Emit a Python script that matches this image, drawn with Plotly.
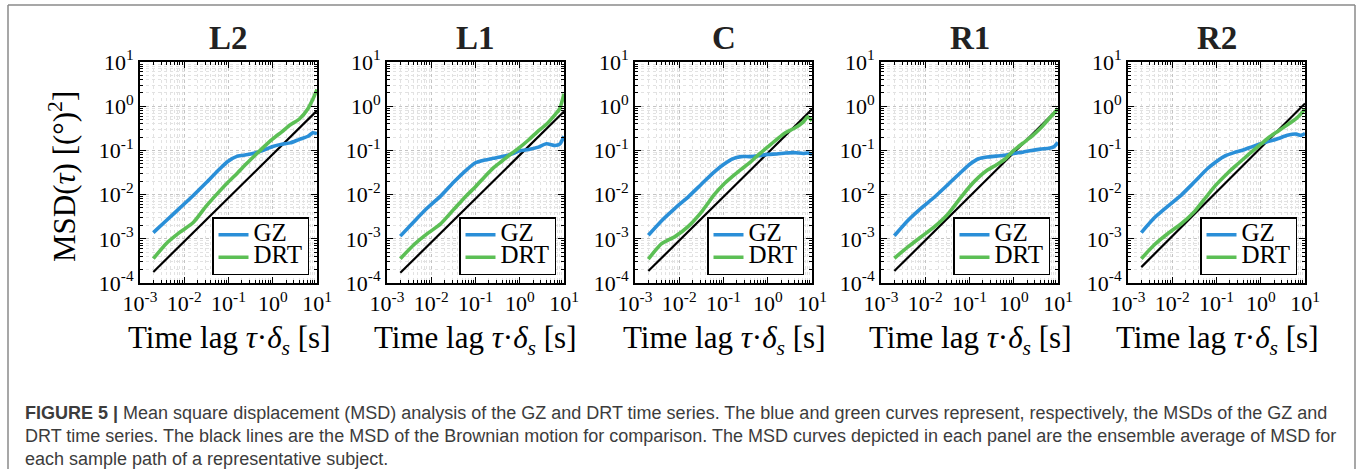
import plotly.graph_objects as go

W, H = 1358, 469

# ---------------- data ----------------
panels = ["L2", "L1", "C", "R1", "R2"]
tau = [0.002, 0.004, 0.008, 0.016, 0.032, 0.063, 0.1, 0.16, 0.25, 0.4,
       0.63, 1.0, 1.6, 2.5, 4.0, 6.3, 8.0, 10.0]

gz_L2 = [1.38e-3, 2.63e-3, 5.0e-3, 9.55e-3, 1.9e-2, 3.8e-2, 5.75e-2, 7.41e-2, 7.94e-2, 8.71e-2,
         0.102, 0.123, 0.138, 0.148, 0.178, 0.209, 0.251, 0.240]
drt_L2 = [3.55e-4, 7.94e-4, 1.41e-3, 2.34e-3, 5.62e-3, 1.2e-2, 1.95e-2, 3.09e-2, 4.9e-2, 7.76e-2,
          0.120, 0.182, 0.263, 0.380, 0.513, 0.891, 1.41, 2.40]

gz_L1 = [1.15e-3, 2.4e-3, 4.9e-3, 9.12e-3, 1.9e-2, 3.63e-2, 5.25e-2, 6.03e-2, 6.61e-2, 7.24e-2,
         8.13e-2, 9.77e-2, 0.105, 0.117, 0.141, 0.129, 0.138, 0.209]
drt_L1 = [3.55e-4, 7.24e-4, 1.29e-3, 2.14e-3, 4.57e-3, 9.55e-3, 1.51e-2, 2.51e-2, 3.98e-2, 5.75e-2,
          8.32e-2, 0.117, 0.174, 0.263, 0.389, 0.646, 0.871, 1.91]

gz_C = [1.2e-3, 2.57e-3, 4.9e-3, 8.91e-3, 1.74e-2, 3.31e-2, 4.79e-2, 6.46e-2, 7.24e-2, 7.24e-2,
        7.59e-2, 8.13e-2, 8.32e-2, 8.71e-2, 8.91e-2, 8.51e-2, 8.71e-2, 8.13e-2]
drt_C = [3.47e-4, 7.76e-4, 1.12e-3, 1.91e-3, 4.07e-3, 1.02e-2, 1.7e-2, 2.57e-2, 3.72e-2, 5.37e-2,
         8.13e-2, 0.120, 0.178, 0.251, 0.316, 0.437, 0.575, 0.468]

gz_R1 = [1.17e-3, 2.57e-3, 4.9e-3, 8.71e-3, 1.66e-2, 3.16e-2, 4.79e-2, 6.46e-2, 7.08e-2, 7.41e-2,
         7.76e-2, 8.51e-2, 9.12e-2, 0.100, 0.107, 0.112, 0.120, 0.151]
drt_R1 = [3.63e-4, 6.46e-4, 1.1e-3, 1.86e-3, 3.55e-3, 8.51e-3, 1.51e-2, 2.45e-2, 3.55e-2, 4.68e-2,
          6.31e-2, 0.100, 0.145, 0.204, 0.316, 0.525, 0.676, 0.891]

gz_R2 = [1.38e-3, 3.02e-3, 5.5e-3, 9.77e-3, 1.95e-2, 3.89e-2, 5.62e-2, 7.59e-2, 8.91e-2, 0.102,
         0.120, 0.141, 0.162, 0.186, 0.219, 0.234, 0.219, 0.240]
drt_R2 = [3.55e-4, 7.41e-4, 1.32e-3, 2.19e-3, 4.17e-3, 9.77e-3, 1.7e-2, 2.75e-2, 4.17e-2, 6.31e-2,
          9.33e-2, 0.138, 0.204, 0.275, 0.380, 0.525, 0.661, 0.871]

# Brownian-motion reference lines (end points)
brown_tau = [0.002, 10.0]
brown_L2 = [1.78e-4, 0.794]
brown_L1 = [1.70e-4, 0.76]
brown_C = [1.86e-4, 0.85]
brown_R1 = [1.86e-4, 0.87]
brown_R2 = [2.29e-4, 1.15]

gz_all = [gz_L2, gz_L1, gz_C, gz_R1, gz_R2]
drt_all = [drt_L2, drt_L1, drt_C, drt_R1, drt_R2]
brown_all = [brown_L2, brown_L1, brown_C, brown_R1, brown_R2]

x_tick_vals = [1e-3, 1e-2, 1e-1, 1e0, 1e1]
x_tick_text = ["10<sup>-3</sup>", "10<sup>-2</sup>", "10<sup>-1</sup>", "10<sup>0</sup>", "10<sup>1</sup>"]
y_tick_vals = [1e-4, 1e-3, 1e-2, 1e-1, 1e0, 1e1]
y_tick_text = ["10<sup>-4</sup>", "10<sup>-3</sup>", "10<sup>-2</sup>", "10<sup>-1</sup>", "10<sup>0</sup>", "10<sup>1</sup>"]

caption_lines = [
    "<b>FIGURE 5 |</b> Mean square displacement (MSD) analysis of the GZ and DRT time series. "
    "The blue and green curves represent, respectively, the MSDs of the GZ and",
    "DRT time series. The black lines are the MSD of the Brownian motion for comparison. "
    "The MSD curves depicted in each panel are the ensemble average of MSD for",
    "each sample path of a representative subject.",
]

# ---------------- styling / layout ----------------
BLUE = "#2a8fd8"
GREEN = "#5cbf55"
SERIF = "Liberation Serif, Times New Roman, serif"
SANS = "Liberation Sans, Arial, sans-serif"

panel_left = [140, 387, 635, 881, 1128]
panel_w = 177
plot_top, plot_bot = 62, 283


def px_x(p):
    return p / W


def px_y(p):
    return 1 - p / H


minor_x = [m * 10 ** d for d in range(-3, 1) for m in range(2, 10)]
minor_y = [m * 10 ** d for d in range(-4, 1) for m in range(2, 10)]


def leg_label(s):
    return '<span style="font-size:25px">%s</span>' % s


fig = go.Figure()
layout = dict(
    width=W, height=H,
    margin=dict(l=0, r=0, t=0, b=0, autoexpand=False),
    paper_bgcolor="white", plot_bgcolor="white",
    showlegend=True,
    annotations=[], shapes=[],
)

for i, name in enumerate(panels):
    k = "" if i == 0 else str(i + 1)
    xa, ya = "x" + k, "y" + k
    leg = "legend" + k
    fig.add_trace(go.Scatter(x=brown_tau, y=brown_all[i], mode="lines",
                             line=dict(color="black", width=2.2), showlegend=False,
                             xaxis=xa, yaxis=ya))
    fig.add_trace(go.Scatter(x=tau, y=gz_all[i], mode="lines", name=leg_label("GZ"),
                             line=dict(color=BLUE, width=3.6, shape="spline", smoothing=0.6),
                             xaxis=xa, yaxis=ya, legend=leg))
    fig.add_trace(go.Scatter(x=tau, y=drt_all[i], mode="lines", name=leg_label("DRT"),
                             line=dict(color=GREEN, width=3.6, shape="spline", smoothing=0.6),
                             xaxis=xa, yaxis=ya, legend=leg))
    l = panel_left[i]
    common = dict(
        type="log", showline=True, linecolor="black", linewidth=2, mirror="allticks",
        ticks="inside", ticklen=6, tickwidth=1.2, tickcolor="black",
        showgrid=True, gridcolor="#c4c4c4", griddash="dot", gridwidth=1,
        zeroline=False, tickmode="array", automargin=False,
        tickfont=dict(family=SERIF, size=22, color="black"),
    )
    layout["xaxis" + k] = dict(
        common, domain=[px_x(l), px_x(l + panel_w)], range=[-3, 1],
        tickvals=x_tick_vals, ticktext=x_tick_text, anchor=ya,
        minor=dict(tickmode="array", tickvals=minor_x, ticks="inside", ticklen=3,
                   tickcolor="black", showgrid=True, gridcolor="#e2e2e2", griddash="dot"),
    )
    layout["yaxis" + k] = dict(
        common, domain=[px_y(plot_bot), px_y(plot_top)], range=[-4, 1],
        tickvals=y_tick_vals, ticktext=y_tick_text, anchor=xa,
        minor=dict(tickmode="array", tickvals=minor_y, ticks="inside", ticklen=3,
                   tickcolor="black", showgrid=True, gridcolor="#e2e2e2", griddash="dot"),
    )
    layout[leg] = dict(
        x=px_x(l + panel_w - 8), y=px_y(plot_bot - 8), xanchor="right", yanchor="bottom",
        xref="paper", yref="paper",
        bgcolor="white", bordercolor="black", borderwidth=1.5,
        font=dict(family=SERIF, size=15, color="black"),
        tracegroupgap=0, itemwidth=30,
    )
    cx = px_x(l + panel_w / 2)
    layout["annotations"].append(dict(
        text="<b>%s</b>" % name, x=cx, y=px_y(38), xref="paper", yref="paper",
        showarrow=False, font=dict(family=SERIF, size=33, color="#222"),
        xanchor="center", yanchor="middle"))
    layout["annotations"].append(dict(
        text="Time lag <i>τ</i>·<i>δ<sub>s</sub></i> [s]", x=cx, y=px_y(340),
        xref="paper", yref="paper", showarrow=False,
        font=dict(family=SERIF, size=31, color="black"),
        xanchor="center", yanchor="middle"))

layout["annotations"].append(dict(
    text="MSD(<i>τ</i>) [(°)<sup>2</sup>]", x=px_x(62), y=px_y(177), textangle=-90,
    xref="paper", yref="paper", showarrow=False,
    font=dict(family=SERIF, size=31, color="black"),
    xanchor="center", yanchor="middle"))

for j, line in enumerate(caption_lines):
    layout["annotations"].append(dict(
        text=line, x=px_x(23), y=px_y(413 + 23 * j), xref="paper", yref="paper",
        showarrow=False, xanchor="left", yanchor="middle",
        font=dict(family=SANS, size=18, color="#3c3c3c")))

border = dict(type="line", xref="paper", yref="paper", line=dict(color="#8a8a8a", width=1.5))
layout["shapes"] += [
    dict(border, x0=px_x(8), x1=px_x(8), y0=0, y1=px_y(5)),
    dict(border, x0=px_x(8), x1=px_x(1355), y0=px_y(5), y1=px_y(5)),
    dict(border, x0=px_x(1355), x1=px_x(1355), y0=0, y1=px_y(5)),
]

fig.update_layout(**layout)
fig.write_html(
    "out.html",
    config={"displayModeBar": False},
    post_script="document.body.style.margin='0';document.body.style.overflow='hidden';",
)
